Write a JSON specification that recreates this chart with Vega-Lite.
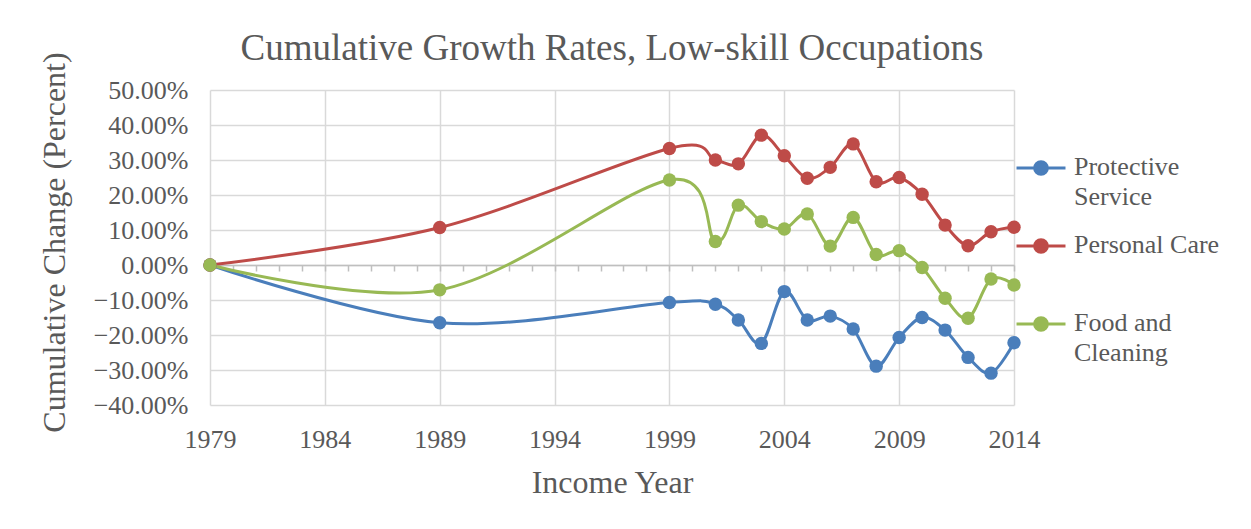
{
  "$schema": "https://vega.github.io/schema/vega-lite/v6.json",
  "width": 804,
  "height": 315,
  "autosize": {"type": "none"},
  "padding": {"left": 210, "top": 90, "right": 237, "bottom": 124},
  "background": "white",
  "title": {"text": "Cumulative Growth Rates, Low-skill Occupations", "font": "Liberation Serif", "fontSize": 37, "fontWeight": "normal", "color": "#595959", "anchor": "middle", "frame": "group", "baseline": "alphabetic", "offset": 10, "dy": 55},
  "config": {
    "view": {"stroke": null},
    "font": "Liberation Serif"
  },
  "data": {"values": [
    {"series": "Protective Service", "year": 1979, "value": 0},
    {"series": "Protective Service", "year": 1989, "value": -0.165},
    {"series": "Protective Service", "year": 1999, "value": -0.107},
    {"series": "Protective Service", "year": 2001, "value": -0.112},
    {"series": "Protective Service", "year": 2002, "value": -0.157},
    {"series": "Protective Service", "year": 2003, "value": -0.224},
    {"series": "Protective Service", "year": 2004, "value": -0.076},
    {"series": "Protective Service", "year": 2005, "value": -0.157},
    {"series": "Protective Service", "year": 2006, "value": -0.146},
    {"series": "Protective Service", "year": 2007, "value": -0.183},
    {"series": "Protective Service", "year": 2008, "value": -0.289},
    {"series": "Protective Service", "year": 2009, "value": -0.207},
    {"series": "Protective Service", "year": 2010, "value": -0.150},
    {"series": "Protective Service", "year": 2011, "value": -0.186},
    {"series": "Protective Service", "year": 2012, "value": -0.264},
    {"series": "Protective Service", "year": 2013, "value": -0.309},
    {"series": "Protective Service", "year": 2014, "value": -0.222},
    {"series": "Personal Care", "year": 1979, "value": 0},
    {"series": "Personal Care", "year": 1989, "value": 0.107},
    {"series": "Personal Care", "year": 1999, "value": 0.333},
    {"series": "Personal Care", "year": 2001, "value": 0.300},
    {"series": "Personal Care", "year": 2002, "value": 0.289},
    {"series": "Personal Care", "year": 2003, "value": 0.371},
    {"series": "Personal Care", "year": 2004, "value": 0.312},
    {"series": "Personal Care", "year": 2005, "value": 0.248},
    {"series": "Personal Care", "year": 2006, "value": 0.279},
    {"series": "Personal Care", "year": 2007, "value": 0.346},
    {"series": "Personal Care", "year": 2008, "value": 0.238},
    {"series": "Personal Care", "year": 2009, "value": 0.250},
    {"series": "Personal Care", "year": 2010, "value": 0.202},
    {"series": "Personal Care", "year": 2011, "value": 0.114},
    {"series": "Personal Care", "year": 2012, "value": 0.055},
    {"series": "Personal Care", "year": 2013, "value": 0.095},
    {"series": "Personal Care", "year": 2014, "value": 0.108},
    {"series": "Food and Cleaning", "year": 1979, "value": 0},
    {"series": "Food and Cleaning", "year": 1989, "value": -0.071},
    {"series": "Food and Cleaning", "year": 1999, "value": 0.243},
    {"series": "Food and Cleaning", "year": 2001, "value": 0.067},
    {"series": "Food and Cleaning", "year": 2002, "value": 0.171},
    {"series": "Food and Cleaning", "year": 2003, "value": 0.124},
    {"series": "Food and Cleaning", "year": 2004, "value": 0.103},
    {"series": "Food and Cleaning", "year": 2005, "value": 0.146},
    {"series": "Food and Cleaning", "year": 2006, "value": 0.054},
    {"series": "Food and Cleaning", "year": 2007, "value": 0.136},
    {"series": "Food and Cleaning", "year": 2008, "value": 0.030},
    {"series": "Food and Cleaning", "year": 2009, "value": 0.041},
    {"series": "Food and Cleaning", "year": 2010, "value": -0.007},
    {"series": "Food and Cleaning", "year": 2011, "value": -0.095},
    {"series": "Food and Cleaning", "year": 2012, "value": -0.152},
    {"series": "Food and Cleaning", "year": 2013, "value": -0.040},
    {"series": "Food and Cleaning", "year": 2014, "value": -0.057}
  ]},
  "resolve": {"axis": {"x": "independent"}},
  "encoding": {
    "y": {"field": "value", "type": "quantitative", "scale": {"domain": [-0.4, 0.5], "nice": false},
      "axis": {"values": [-0.4, -0.3, -0.2, -0.1, 0, 0.1, 0.2, 0.3, 0.4, 0.5], "format": ".2%", "title": "Cumulative Change (Percent)",
        "labelFont": "Liberation Serif", "labelFontSize": 26, "labelColor": "#595959", "labelPadding": 22, "labelFlush": false, "labelOverlap": false, "ticks": false,
        "domain": false, "grid": true, "gridColor": "#D9D9D9", "gridWidth": 1.5,
        "titleFont": "Liberation Serif", "titleFontSize": 32, "titleFontWeight": "normal", "titleColor": "#595959",
        "titleX": -156, "titleY": 152, "titleAlign": "center", "titleBaseline": "middle", "titleAngle": -90}},
    "color": {"field": "series", "type": "nominal",
      "scale": {"domain": ["Protective Service", "Personal Care", "Food and Cleaning"], "range": ["#4A7EBB", "#BE4B48", "#98B954"]},
      "legend": {"orient": "none", "legendX": 805, "legendY": 52, "title": null,
        "symbolType": "M-1,0H1M-0.26,0A0.26,0.26 0 1,1 0.26,0A0.26,0.26 0 1,1 -0.26,0",
        "symbolSize": 2400, "symbolStrokeWidth": 3, "symbolOffset": 0,
        "labelFont": "Liberation Serif", "labelFontSize": 26, "labelColor": "#595959", "labelOffset": 7,
        "labelBaseline": "top", "rowPadding": 10, "gridAlign": "all",
        "labelExpr": "datum.label == 'Protective Service' ? ['Protective', 'Service'] : datum.label == 'Food and Cleaning' ? ['Food and', 'Cleaning'] : datum.label",
        "encode": {
          "symbols": {"update": {"fill": {"scale": "color", "field": "value"}, "fillOpacity": {"value": 1}}},
          "labels": {"update": {"lineHeight": {"value": 30}, "dy": {"value": -14}}}
        }}}
  },
  "layer": [
    {
      "mark": {"type": "line", "interpolate": "cardinal", "strokeWidth": 3},
      "encoding": {
        "x": {"field": "year", "type": "quantitative", "scale": {"domain": [1979, 2014], "nice": false, "zero": false},
          "axis": {"orient": "bottom", "values": [1979, 1984, 1989, 1994, 1999, 2004, 2009, 2014], "format": "d", "title": "Income Year",
            "labelFont": "Liberation Serif", "labelFontSize": 26, "labelColor": "#595959", "labelPadding": 21, "labelFlush": false, "labelOverlap": false, "ticks": false,
            "domain": false, "grid": true, "gridColor": "#D9D9D9", "gridWidth": 1.5,
            "titleFont": "Liberation Serif", "titleFontSize": 32, "titleFontWeight": "normal", "titleColor": "#595959",
            "titleY": 87, "titleBaseline": "alphabetic"}}
      }
    },
    {
      "mark": {"type": "point", "filled": true, "size": 180, "opacity": 1},
      "encoding": {
        "x": {"field": "year", "type": "quantitative",
          "axis": {"orient": "top", "values": [1979,1980,1981,1982,1983,1984,1985,1986,1987,1988,1989,1990,1991,1992,1993,1994,1995,1996,1997,1998,1999,2000,2001,2002,2003,2004,2005,2006,2007,2008,2009,2010,2011,2012,2013,2014],
            "labels": false, "title": null, "grid": false, "offset": -175, "domain": true, "domainColor": "#BFBFBF", "domainWidth": 1.5,
            "ticks": true, "tickColor": "#BFBFBF", "tickSize": -6, "tickWidth": 1.5}}
      }
    }
  ]
}
